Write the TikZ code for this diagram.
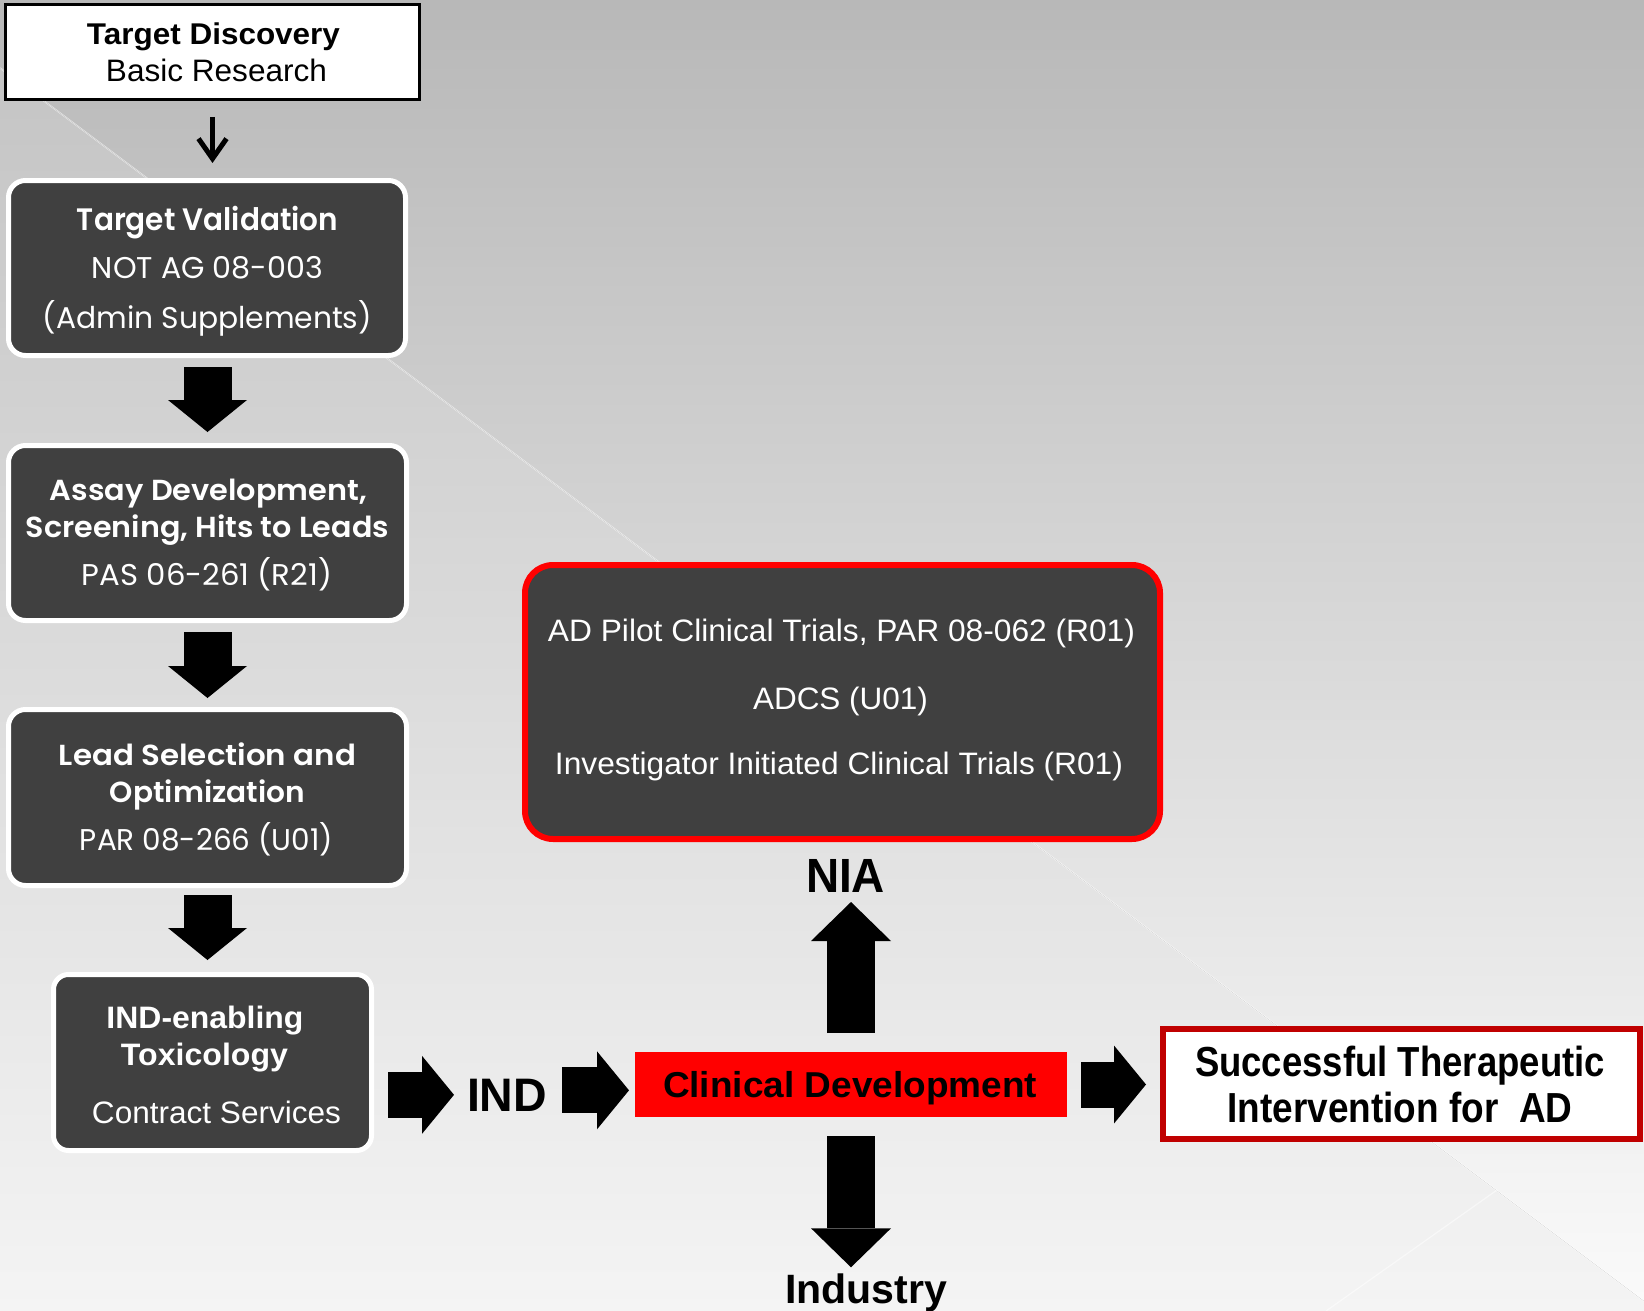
\documentclass[tikz,border=0pt]{standalone}
\usepackage{fontspec}
\setmainfont{Liberation Sans}
\newfontfamily\gothic[BoldFont={Poppins SemiBold}]{Poppins}
\usetikzlibrary{arrows.meta,calc}
\definecolor{boxgray}{HTML}{404040}
\definecolor{darkred}{HTML}{C00000}
\definecolor{bgA}{HTML}{B8B8B8}
\definecolor{bgB}{HTML}{FAFAFA}
\definecolor{bgC}{HTML}{C2C2C2}
\definecolor{bgD}{HTML}{F4F4F4}
\newcommand\fw[2]{\resizebox{#1pt}{\height}{#2}}
\newcommand\fs[1]{\fontsize{#1}{#1}\selectfont}
\begin{document}
\begin{tikzpicture}[x=1pt,y=-1pt,
  every node/.style={outer sep=0pt},
  darkbox/.style={draw=white,line width=5pt,fill=boxgray,rounded corners=17pt,inner sep=0pt},
  lbl/.style={anchor=base,inner sep=0pt},
  wlbl/.style={lbl,text=white},
  blockarrow/.style={draw=black,line width=48pt,-{Triangle[length=32pt,width=79pt,line width=0pt]}},
  blockarrowh/.style={draw=black,line width=46pt,-{Triangle[length=32pt,width=78pt,line width=0pt]}},
  blockarrowv/.style={draw=black,line width=48pt,-{Triangle[length=39pt,width=80pt,line width=0pt]}},
  thinarrow/.style={draw=black,line width=5pt,-{Straight Barb[length=20pt,width=28pt,line width=5pt]}}]
\useasboundingbox (0,0) rectangle (1644,1311);
% background
\fill[top color=bgC,bottom color=bgD] (0,0) rectangle (1644,1311);
\fill[top color=bgA,bottom color=bgB] (0,0) -- (1644,0) -- (1644,1301) -- (0,68) -- cycle;
\draw[white,opacity=0.55,line width=1.5pt] (0,68) -- (1644,1301);
\draw[white,opacity=0.5,line width=1.2pt] (1497,1190) -- (1326,1311);

% Target discovery
\node[draw=black,line width=3pt,fill=white,minimum width=414pt,minimum height=95pt,inner sep=0pt] (td) at (212.5,52) {};
\node[lbl] (td1) at (213.5,45) {\fs{30}\bfseries\fw{253}{Target Discovery}};
\node[lbl] (td2) at (216.5,82) {\fs{31}\fw{221}{Basic Research}};

% Target validation
\node[darkbox,minimum width=397pt,minimum height=175pt] (tv) at (207,268) {};
\node[wlbl] (tv1) at (207.5,230) {\gothic\fs{31}\bfseries\fw{261}{Target Validation}};
\node[wlbl] (tv2) at (207.5,278) {\gothic\fs{30}\fw{231}{NOT AG 08-003}};
\node[wlbl] (tv3) at (207.5,328) {\gothic\fs{30}\fw{329}{(Admin Supplements)}};

% Assay
\node[darkbox,minimum width=398pt,minimum height=175pt] (as) at (207.5,533) {};
\node[wlbl] (as1) at (208.5,500) {\gothic\fs{29}\bfseries\fw{317}{Assay Development,}};
\node[wlbl] (as2) at (207.5,537) {\gothic\fs{29}\bfseries\fw{363}{Screening, Hits to Leads}};
\node[wlbl] (as3) at (207,585) {\gothic\fs{30}\fw{250}{PAS 06-261 (R21)}};

% Lead
\node[darkbox,minimum width=398pt,minimum height=176pt] (ld) at (207.5,797.5) {};
\node[wlbl] (ld1) at (207.5,765) {\gothic\fs{29}\bfseries\fw{297}{Lead Selection and}};
\node[wlbl] (ld2) at (207.5,802) {\gothic\fs{29}\bfseries\fw{195}{Optimization}};
\node[wlbl] (ld3) at (206.5,850) {\gothic\fs{30}\fw{253}{PAR 08-266 (U01)}};

% IND-enabling
\node[darkbox,rounded corners=15pt,minimum width=318pt,minimum height=176pt] (ind) at (212.5,1062.5) {};
\node[wlbl] (in1) at (205,1028) {\fs{31}\bfseries\fw{197}{IND-enabling}};
\node[wlbl] (in2) at (204.5,1065) {\fs{31}\bfseries\fw{167}{Toxicology}};
\node[wlbl] (in3) at (216.5,1123) {\fs{31}\fw{249}{Contract Services}};

% IND label
\node[lbl] (indl) at (507,1111) {\fs{47}\bfseries\fw{80}{IND}};

% Clinical development
\node[fill=red,minimum width=432pt,minimum height=65pt,inner sep=0pt] (clin) at (851,1084.5) {};
\node[lbl] (clint) at (850,1097) {\fs{36}\bfseries\fw{374}{Clinical Development}};

% Trials box
\node[draw=red,line width=6pt,fill=boxgray,rounded corners=28pt,minimum width=635pt,minimum height=274pt,inner sep=0pt] (trials) at (842.5,702) {};
\node[wlbl] (tr1) at (841.5,641) {\fs{31}\fw{587}{AD Pilot Clinical Trials, PAR 08-062 (R01)}};
\node[wlbl] (tr2) at (840.5,709) {\fs{31}\fw{175}{ADCS (U01)}};
\node[wlbl] (tr3) at (839,774) {\fs{31}\fw{568}{Investigator Initiated Clinical Trials (R01)}};

% NIA / Industry labels
\node[lbl] (nia) at (845.5,892) {\fs{48}\bfseries\fw{79}{NIA}};
\node[lbl] (indus) at (866,1303) {\fs{41}\bfseries\fw{162}{Industry}};

% Successful box
\node[draw=darkred,line width=6pt,fill=white,minimum width=477pt,minimum height=110pt,inner sep=0pt] (suc) at (1401.5,1084) {};
\node[lbl] (su1) at (1400,1076) {\fs{42}\bfseries\fw{410}{Successful Therapeutic}};
\node[lbl] (su2) at (1400,1122) {\fs{42}\bfseries\fw{345}{Intervention for\ \ AD}};

% connectors
\draw[thinarrow,shorten <=17.5pt,shorten >=17.5pt] (td.south) -- (td.south |- tv.north);
\draw[blockarrow,shorten <=11.5pt,shorten >=13.5pt] (as.north |- tv.south) -- (as.north);
\draw[blockarrow,shorten <=11.5pt,shorten >=11.5pt] (as.south) -- (as.south |- ld.north);
\draw[blockarrow,shorten <=9.5pt,shorten >=14.5pt] (ld.south) -- (ld.south |- ind.north);
\draw[blockarrowh,shorten <=16.5pt,shorten >=13pt] (ind.east |- indl.west) -- (indl.west);
\draw[blockarrowh,shorten <=15pt,shorten >=6pt] ($(indl.east)+(0,-4.5)$) -- ($(clin.west |- indl.east)+(0,-4.5)$);
\draw[blockarrowh,shorten <=14pt,shorten >=17pt] (clin.east) -- (clin.east -| suc.west);
\draw[blockarrowv,shorten <=19pt,shorten >=10pt] (clin.north) -- (clin.north |- nia.south);
\draw[blockarrowv,shorten <=19pt,shorten >=6pt] (clin.south) -- (clin.south |- indus.north);
\end{tikzpicture}
\end{document}
